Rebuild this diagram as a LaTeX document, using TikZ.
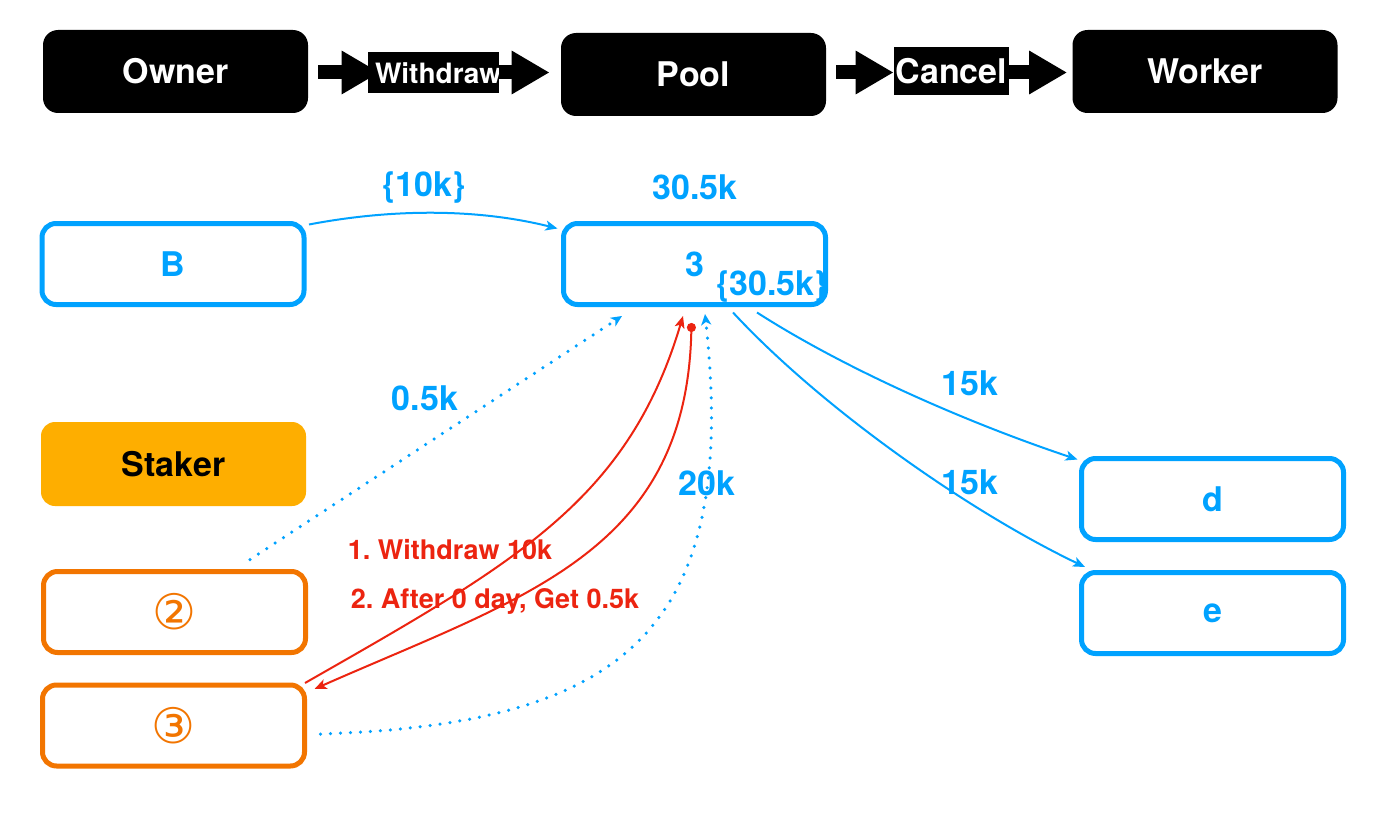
\documentclass[tikz,border=0pt]{standalone}
\usepackage{fontspec}
\setmainfont{TeX Gyre Heros}
\newfontfamily\circfont{DejaVu Sans}
\usetikzlibrary{arrows.meta}
\definecolor{kblue}{RGB}{0,162,255}
\definecolor{korange}{RGB}{242,117,0}
\definecolor{kfill}{RGB}{254,174,0}
\definecolor{kred}{RGB}{236,36,16}
\pgfdeclarelayer{back}
\pgfsetlayers{back,main}
\newcommand\kbigfont{\bfseries\fontsize{17}{20}\selectfont}
\newcommand\kredfont{\bfseries\fontsize{13.5}{16}\selectfont\frenchspacing}
\newcommand\kwdfont{\bfseries\fontsize{14}{16}\selectfont}
\newcommand\kcircfont{\circfont\fontsize{24.5}{28}\selectfont}
\tikzset{
  blk/.style={fill=black, rounded corners=7.5pt, minimum width=132.5pt, minimum height=41.5pt, text=white, font=\kbigfont, inner sep=0pt},
  bbox/.style={draw=kblue, line width=2.5pt, rounded corners=7pt, minimum width=131pt, minimum height=40.5pt, text=kblue, font=\kbigfont, inner sep=0pt},
  obox/.style={draw=korange, line width=2.5pt, rounded corners=7pt, minimum width=131pt, minimum height=40.5pt, text=korange, font=\kcircfont, inner sep=0pt},
  sbox/.style={fill=kfill, rounded corners=7pt, minimum width=132.5pt, minimum height=42pt, text=black, font=\kbigfont, inner sep=0pt},
  lblbox/.style={fill=black, inner sep=0pt},
  bigarrow/.style={line width=7pt, -{Triangle[length=19pt,width=20.5pt]}},
  lbl/.style={text=kblue, font=\kbigfont, inner sep=0pt},
  rlbl/.style={text=kred, font=\kredfont, inner sep=0pt},
  thinarr/.style={kblue, line width=1pt, -{Stealth[length=6pt,width=5pt,inset=1.5pt]}},
  redarr/.style={kred, line width=1pt, -{Stealth[length=6pt,width=5pt,inset=1.5pt]}},
  dotarr/.style={kblue, line width=1.75pt, line cap=round, dash pattern=on 0pt off 5pt, -{Stealth[length=5.5pt,width=5pt,inset=1.5pt]}}
}
\begin{document}
\begin{tikzpicture}[x=0.5pt,y=-0.5pt]
\begin{pgfonlayer}{back}
\fill[white] (0,0) rectangle (1396,813);
\end{pgfonlayer}
\useasboundingbox (0,0) rectangle (1396,813);

% top row
\node[blk] (owner) at (175.5,71.5) {Owner};
\node[blk] (pool) at (693.5,74.5) {Pool};
\node[blk] (worker) at (1205,71.5) {Worker};
\node[lblbox, minimum width=65.5pt, minimum height=20.5pt] (wd) at (433.5,72.5) {};
\node[text=white, font=\kwdfont, inner sep=0pt] (wdt) at (438,73) {Withdraw};
\node[lblbox, minimum width=57.5pt, minimum height=24pt, text=white, font=\kbigfont] (cancel) at (951.5,71) {Cancel};

\begin{pgfonlayer}{back}
\draw[bigarrow] ([xshift=5pt]owner.east |- wd.west) -- ([xshift=6pt]wd.west);
\end{pgfonlayer}
\draw[bigarrow, shorten >=5.5pt] (wd.east) -- (wd.east -| pool.west);
\draw[bigarrow] ([xshift=5pt]pool.east |- wd.east) -- (cancel.west |- wd.east);
\draw[bigarrow, shorten >=2.5pt] (cancel.east |- wd.east) -- (wd.east -| worker.west);

% boxes
\node[bbox] (b) at (173,264) {B};
\node[bbox] (n3) at (694.5,264) {3};
\node[sbox] (staker) at (173.5,464) {Staker};
\node[obox] (s2) at (174.5,612) {②};
\node[obox] (s3) at (173.5,725.5) {③};
\node[bbox] (d) at (1212.5,499) {d};
\node[bbox] (e) at (1212.5,613) {e};

% labels
\node[lbl] (l10k) at (424,188) {\{10k\}};
\node[lbl] (l305) at (695,187) {30.5k};
\node[lbl] (l305b) at (772,287) {\{30.5k\}};
\node[lbl] (l05) at (425,398) {0.5k};
\node[lbl] (l20) at (707,483) {20k};
\node[lbl] (l15a) at (970,383) {15k};
\node[lbl] (l15b) at (970,482) {15k};
\node[rlbl] (r1) at (450,550) {1. Withdraw 10k};
\node[rlbl] (r2) at (495,601) {2. After 0 day, Get 0.5k};

% connectors
\draw[thinarr] ([shift={(2.5,3.5)}]b.north east) .. controls +(84,-16) and +(-80,-20) .. ([shift={(-3.5,7.5)}]n3.north west);
\draw[dotarr] ([shift={(75.5,-9.5)}]s2.north) -- ([shift={(-72.5,9)}]n3.south);
\draw[redarr] ([shift={(-2,0.5)}]s3.north east) .. controls +(210,-120) and +(-55,185) .. ([shift={(-11.5,9)}]n3.south);
\draw[kred, line width=1pt, {Circle[length=4.5pt]}-{Stealth[length=6pt,width=5pt,inset=1.5pt]}] ([shift={(-3,16)}]n3.south) .. controls +(-5,230) and +(208,-92) .. ([shift={(7.5,6.5)}]s3.north east);
\draw[dotarr] ([shift={(13.5,8.5)}]s3.east) .. controls +(300,-10) and +(35,320) .. ([shift={(10.5,7)}]n3.south);
\draw[thinarr] ([shift={(62.5,5.5)}]n3.south) .. controls +(92,59) and +(-105,-35) .. ([shift={(-1.5,3.5)}]d.north west);
\draw[thinarr] ([shift={(38.5,5.5)}]n3.south) .. controls +(88,95) and +(-117,-56) .. ([shift={(6,-3)}]e.north west);
\end{tikzpicture}
\end{document}
